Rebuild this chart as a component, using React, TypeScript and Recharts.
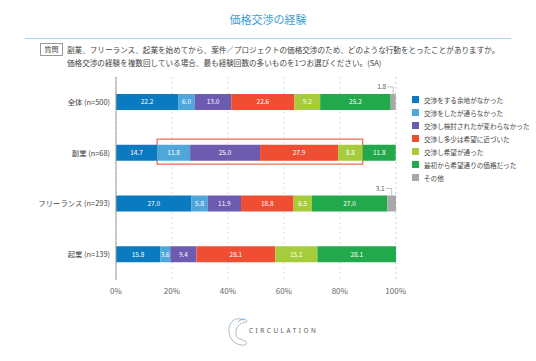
import React from "react";
import {
  BarChart,
  Bar,
  XAxis,
  YAxis,
  CartesianGrid,
  LabelList,
  ReferenceArea,
} from "recharts";

const categories = ["全体 (n=500)", "副業 (n=68)", "フリーランス (n=293)", "起業 (n=139)"];

const noRoom = [22.2, 14.7, 27.0, 15.8];
const notAccepted = [6.0, 11.8, 5.8, 3.6];
const consideredNoChange = [13.0, 25.0, 11.9, 9.4];
const closer = [22.6, 27.9, 18.8, 28.1];
const accepted = [9.2, 8.8, 6.5, 15.1];
const asHoped = [25.2, 11.8, 27.0, 28.1];
const other = [1.8, 0, 3.1, 0];

const xTicks = [0, 20, 40, 60, 80, 100];

const series = [
  { key: "s1", name: "交渉をする余地がなかった", color: "#0b7bc1", values: noRoom },
  { key: "s2", name: "交渉をしたが通らなかった", color: "#4fa6da", values: notAccepted },
  { key: "s3", name: "交渉し検討されたが変わらなかった", color: "#6c5bae", values: consideredNoChange },
  { key: "s4", name: "交渉し多少は希望に近づいた", color: "#ef4e32", values: closer },
  { key: "s5", name: "交渉し希望が通った", color: "#a6cc3b", values: accepted },
  { key: "s6", name: "最初から希望通りの価格だった", color: "#22a94b", values: asHoped },
  { key: "s7", name: "その他", color: "#a8a8a8", values: other },
];

const data = categories.map((name, i) => {
  const row: any = { name };
  series.forEach((s) => {
    row[s.key] = s.values[i];
  });
  return row;
});

// highlighted segment range for 副業
const hlX1 = noRoom[1];
const hlX2 = noRoom[1] + notAccepted[1] + consideredNoChange[1] + closer[1] + accepted[1];

const font = "'Noto Sans CJK JP', 'Noto Sans', sans-serif";

const inside = (props: any) => {
  const { x, y, width, height, value } = props;
  if (!value) return null;
  return (
    <text
      x={x + width / 2}
      y={y + height / 2 + 2.3}
      textAnchor="middle"
      fill="#fff"
      fontSize={6.5}
      fontFamily={font}
    >
      {Number(value).toFixed(1)}
    </text>
  );
};

const otherLabel = (props: any) => {
  const { x, y, width, value } = props;
  if (!value) return null;
  const cx = x + width / 2;
  return (
    <g>
      <polyline
        points={`${cx - 6},${y - 7} ${cx},${y - 7} ${cx},${y}`}
        fill="none"
        stroke="#999"
        strokeWidth={0.6}
      />
      <text x={cx - 7} y={y - 5} textAnchor="end" fill="#555" fontSize={6.5} fontFamily={font}>
        {Number(value).toFixed(1)}
      </text>
    </g>
  );
};

const catTick = (props: any) => {
  const { x, y, payload } = props;
  return (
    <text x={x} y={y + 2.6} textAnchor="end" fill="#444" fontSize={7.4} fontFamily={font}>
      {payload.value}
    </text>
  );
};

const hlShape = (props: any) => {
  const { x, y, width, height } = props;
  const c = y + height / 2;
  return (
    <rect
      x={x}
      y={c - 14}
      width={width}
      height={25}
      fill="none"
      stroke="#f0654f"
      strokeWidth={1.2}
    />
  );
};

export default function App() {
  return (
    <div
      style={{
        position: "absolute",
        left: 0,
        top: 0,
        width: 536,
        height: 361,
        background: "#fff",
        fontFamily: font,
      }}
    >
      <div
        style={{
          position: "absolute",
          top: 11,
          width: 536,
          textAlign: "center",
          color: "#3a9fd6",
          fontSize: 11,
        }}
      >
        価格交渉の経験
      </div>
      <div
        style={{
          position: "absolute",
          left: 25,
          top: 38,
          width: 486,
          height: 0,
          borderTop: "1px solid #a9d7ef",
        }}
      />
      <div
        style={{
          position: "absolute",
          left: 40,
          top: 43,
          width: 21,
          height: 11,
          border: "1px solid #999",
          fontSize: 7,
          lineHeight: "11px",
          textAlign: "center",
          color: "#444",
        }}
      >
        質問
      </div>
      <div
        style={{
          position: "absolute",
          left: 67,
          top: 43,
          fontSize: 7.6,
          lineHeight: "13px",
          color: "#444",
          whiteSpace: "nowrap",
        }}
      >
        副業、フリーランス、起業を始めてから、案件／プロジェクトの価格交渉のため、どのような行動をとったことがありますか。
        <br />
        価格交渉の経験を複数回している場合、最も経験回数の多いものを1つお選びください。(SA)
      </div>

      <div style={{ position: "absolute", left: 0, top: 0 }}>
        <BarChart
          width={536}
          height={361}
          data={data}
          layout="vertical"
          margin={{ top: 77, right: 140, bottom: 61, left: 0 }}
        >
          <CartesianGrid horizontal={false} strokeDasharray="2 3" stroke="#dedede" />
          <XAxis
            type="number"
            domain={[0, 100]}
            ticks={xTicks}
            tickFormatter={(v) => `${v}%`}
            axisLine={false}
            tickLine={false}
            height={20}
            tick={{ fontSize: 8, fill: "#666", fontFamily: font }}
          />
          <YAxis
            type="category"
            dataKey="name"
            width={116}
            axisLine={{ stroke: "#999" }}
            tickLine={false}
            tickSize={0}
            tickMargin={6}
            tick={catTick}
          />
          {series.map((s) => (
            <Bar
              key={s.key}
              dataKey={s.key}
              name={s.name}
              stackId="a"
              fill={s.color}
              barSize={16}
              isAnimationActive={false}
            >
              <LabelList dataKey={s.key} content={s.key === "s7" ? otherLabel : inside} />
            </Bar>
          ))}
          <ReferenceArea
            x1={hlX1}
            x2={hlX2}
            y1={categories[1]}
            y2={categories[1]}
            shape={hlShape}
            ifOverflow="visible"
          />
        </BarChart>
      </div>

      <div style={{ position: "absolute", left: 412, top: 93 }}>
        {series.map((s) => (
          <div
            key={s.key}
            style={{
              display: "flex",
              alignItems: "center",
              height: 13,
              fontSize: 6.6,
              color: "#444",
              whiteSpace: "nowrap",
            }}
          >
            <span
              style={{
                display: "inline-block",
                width: 7,
                height: 7,
                background: s.color,
                marginRight: 5,
              }}
            />
            {s.name}
          </div>
        ))}
      </div>

      <svg style={{ position: "absolute", left: 0, top: 0 }} width={536} height={361}>
        <path
          d="M 243 320 C 236 316, 228 322, 229 332 C 230 341, 236 344, 241 345 C 246 346, 248 343, 245 341 C 240 338, 236 339, 236 335 C 235 328, 240 322, 246 322 C 248 322, 246 318, 243 320 Z"
          fill="none"
          stroke="#9aa6b0"
          strokeWidth={0.8}
        />
        <path d="M 238 322 C 240 320, 242 319, 244 319" fill="none" stroke="#5bb6e6" strokeWidth={1} />
        <text
          x={249}
          y={333}
          fontSize={6.3}
          fill="#555"
          letterSpacing={2.6}
          fontFamily="'Noto Sans', sans-serif"
        >
          CIRCULATION
        </text>
      </svg>
    </div>
  );
}
